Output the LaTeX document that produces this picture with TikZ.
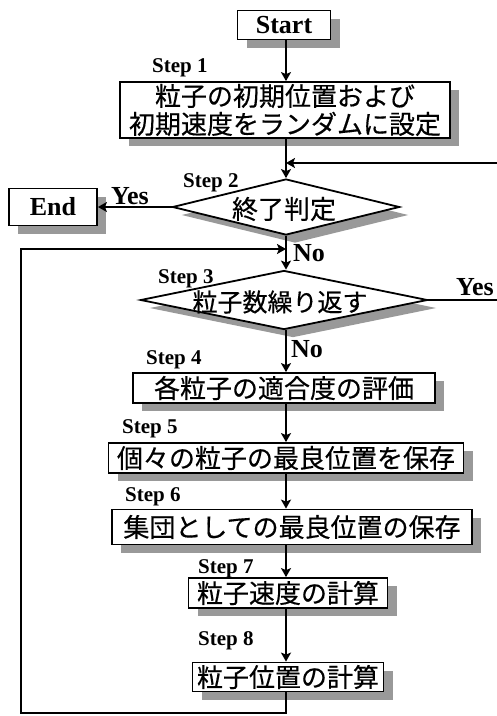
\documentclass[tikz,border=0pt]{standalone}
\usepackage{fontspec}
\setmainfont{Liberation Serif}
\newfontfamily\jp[FakeBold=0.4]{Noto Sans CJK JP}
\usetikzlibrary{arrows.meta,shadows,shapes.geometric}
\begin{document}
\begin{tikzpicture}[x=1pt,y=-1pt,
  sh/.style={drop shadow={shadow xshift=9pt,shadow yshift=-8pt,fill=black!40,opacity=1}},
  box/.style={draw,line width=1.8pt,fill=white,sh,inner sep=0pt,font=\jp\fontsize{26}{28}\selectfont,align=center},
  term/.style={draw,line width=1.8pt,fill=white,sh,inner sep=0pt,font=\bfseries\fontsize{26}{28}\selectfont},
  dia/.style={draw,line width=1.8pt,fill=white,sh,diamond,inner sep=0pt},
  diatext/.style={inner sep=0pt,font=\jp\fontsize{26}{28}\selectfont},
  steplbl/.style={anchor=west,inner sep=0pt,font=\bfseries\fontsize{21}{23}\selectfont},
  yn/.style={inner sep=0pt,font=\bfseries\fontsize{26}{28}\selectfont},
  arr/.style={line width=1.8pt,-{Stealth[length=9pt,width=10pt,inset=2pt]}},
  ln/.style={line width=1.8pt}]
\useasboundingbox[fill=white] (0,0) rectangle (497,716);
\coordinate (ax) at (286,0);

\node[term,minimum width=93pt,minimum height=29pt] (start) at (284,25) {Start};
\node[box,minimum width=330pt,minimum height=56pt] (b1) at (285,110) {粒子の初期位置および\\初期速度をランダムに設定};
\node[term,minimum width=88pt,minimum height=37pt] (end) at (53,207) {End};
\node[dia,minimum width=227pt,minimum height=56pt] (d1) at (286,207) {};
\node[diatext] (d1t) at (284,209) {終了判定};
\node[dia,minimum width=287pt,minimum height=59pt] (d2) at (284,300) {};
\node[diatext,font=\jp\fontsize{25}{28}\selectfont] (d2t) at (280,302) {粒子数繰り返す};
\node[box,minimum width=302pt,minimum height=30pt] (b4) at (284,388) {各粒子の適合度の評価};
\node[box,minimum width=355pt,minimum height=30pt] (b5) at (286,458) {個々の粒子の最良位置を保存};
\node[box,minimum width=360pt,minimum height=35pt] (b6) at (292,527) {集団としての最良位置の保存};
\node[box,minimum width=199pt,minimum height=30pt] (b7) at (288,593) {粒子速度の計算};
\node[box,minimum width=191pt,minimum height=29pt] (b8) at (288,677) {粒子位置の計算};

\node[steplbl] (s1) at (152,68) {Step 1};
\node[steplbl] (s2) at (183,183) {Step 2};
\node[steplbl] (s3) at (158,279) {Step 3};
\node[steplbl] (s4) at (146,360) {Step 4};
\node[steplbl] (s5) at (122,429) {Step 5};
\node[steplbl] (s6) at (125,497) {Step 6};
\node[steplbl] (s7) at (198,569) {Step 7};
\node[steplbl] (s8) at (198,641) {Step 8};

\node[yn] (y1) at (130,196) {Yes};
\node[yn] (n1) at (309,253) {No};
\node[yn] (y2) at (475,287) {Yes};
\node[yn] (n2) at (307,349) {No};

\coordinate (rin) at (497,163);
\coordinate (rout) at (497,300);
\coordinate (lb) at (21,713);
\coordinate (lt) at (21,249);

\draw[arr] (start.south -| ax) -- (b1.north -| ax);
\draw[arr] (b1.south -| ax) -- (d1.north -| ax);
\draw[arr] (rin) -- (rin -| ax);
\draw[arr] (d1.west) -- (d1.west -| end.east);
\draw[arr] (d1.south -| ax) -- (d2.north -| ax);
\draw[ln] (d2.east) -- (d2.east -| rout);
\draw[arr] (d2.south -| ax) -- (b4.north -| ax);
\draw[arr] (b4.south -| ax) -- (b5.north -| ax);
\draw[arr] (b5.south -| ax) -- (b6.north -| ax);
\draw[arr] (b6.south -| ax) -- (b7.north -| ax);
\draw[arr] (b7.south -| ax) -- (b8.north -| ax);
\draw[arr] (b8.south -| ax) |- (lb) -- (lt) -- (lt -| ax);
\end{tikzpicture}
\end{document}
